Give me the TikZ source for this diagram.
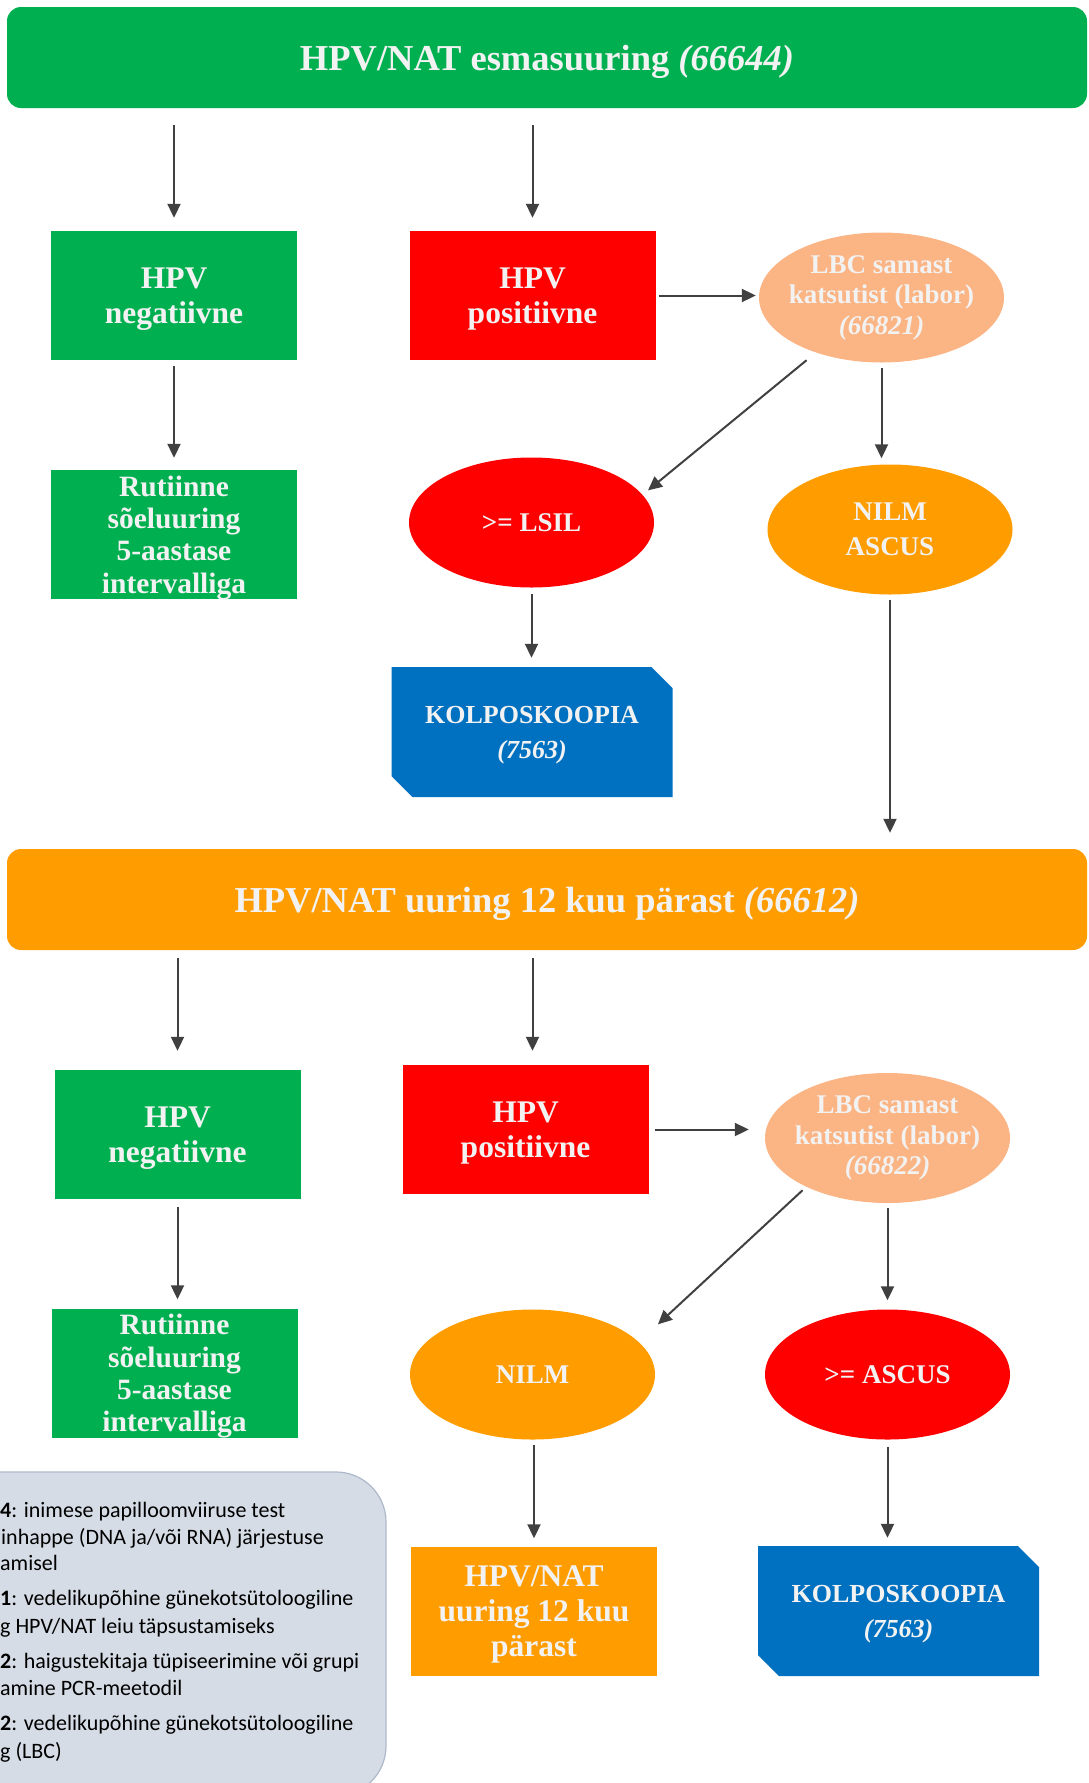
\documentclass[tikz,border=0pt]{standalone}
\usepackage{fontspec}
\setmainfont{Liberation Serif}
\newfontfamily\legendfont{Carlito}
\usetikzlibrary{arrows.meta,shapes.geometric,shapes.misc}

\definecolor{hpvgreen}{HTML}{00B050}
\definecolor{hpvred}{HTML}{FF0000}
\definecolor{hpvorange}{HTML}{FF9C00}
\definecolor{hpvpeach}{HTML}{FBB484}
\definecolor{hpvblue}{HTML}{0070C0}
\definecolor{legendfill}{HTML}{D6DCE5}
\definecolor{legendline}{HTML}{ADB9CA}
\definecolor{boxtext}{HTML}{F2F2F2}
\definecolor{arrowgrey}{HTML}{404040}

\tikzset{
  banner/.style={rectangle, rounded corners=14pt, minimum width=1080pt,
    minimum height=101pt, inner sep=0pt, text=boxtext, text depth=-2.3pt,
    font=\fontsize{36.5}{40}\selectfont\bfseries},
  stepbox/.style={rectangle, minimum width=246pt, minimum height=129pt,
    inner sep=0pt, align=center, text=boxtext, text depth=-3pt,
    font=\fontsize{31.5}{35}\selectfont\bfseries},
  rutiinne/.style={stepbox, fill=hpvgreen, text depth=-1.6pt,
    font=\fontsize{29.5}{32.3}\selectfont\bfseries},
  result/.style={ellipse, minimum width=245pt, minimum height=130pt,
    inner sep=0pt, align=center, text=boxtext,
    font=\fontsize{27}{35}\selectfont\bfseries},
  lbc/.style={result, fill=hpvpeach, inner xsep=-30pt,
    execute at begin node={\rule{0pt}{27pt}},
    font=\fontsize{27}{30.5}\selectfont\bfseries},
  kolpo/.style={chamfered rectangle, chamfered rectangle corners={north east,south west},
    chamfered rectangle xsep=10.5pt, chamfered rectangle ysep=10.5pt,
    minimum width=281pt, minimum height=130pt, inner sep=0pt, fill=hpvblue,
    align=center, text=boxtext, text depth=-3.4pt,
    font=\fontsize{26}{35}\selectfont\bfseries},
  arr/.style={draw=arrowgrey, line width=2pt, -{Triangle[length=14pt,width=13pt]}},
  legendbox/.style={fill=legendfill, draw=legendline, line width=1.2pt, rounded corners=50pt},
  legendtext/.style={anchor=base west, inner sep=0pt,
    font=\legendfont\fontsize{22}{26}\selectfont}
}

\begin{document}
\begin{tikzpicture}[x=1pt,y=-1pt]
  \useasboundingbox (0,0) rectangle (1089,1783);

  % legend
  \draw[legendbox] (-60,1472) rectangle (386,1796);
  \node[legendtext] (leg1) at (0,1517) {\textbf{4}: inimese papilloomviiruse test};
  \node[legendtext] (leg2) at (1,1544) {inhappe (DNA ja/või RNA) järjestuse};
  \node[legendtext] (leg3) at (0,1570) {amisel};
  \node[legendtext] (leg4) at (0,1605) {\textbf{1}: vedelikupõhine günekotsütoloogiline};
  \node[legendtext] (leg5) at (0,1633) {g HPV/NAT leiu täpsustamiseks};
  \node[legendtext] (leg6) at (0,1668) {\textbf{2}: haigustekitaja tüpiseerimine või grupi};
  \node[legendtext] (leg7) at (0,1695) {amine PCR-meetodil};
  \node[legendtext] (leg8) at (0,1730) {\textbf{2}: vedelikupõhine günekotsütoloogiline};
  \node[legendtext] (leg9) at (0,1758) {g (LBC)};

  % first round
  \node[banner, fill=hpvgreen] (esma) at (547,57.5) {HPV/NAT esmasuuring \textit{(66644)}};
  \node[stepbox, fill=hpvgreen] (neg1) at (174,295.5) {HPV\\negatiivne};
  \node[stepbox, fill=hpvred] (pos1) at (532.5,295.5) {HPV\\positiivne};
  \node[lbc] (lbc1) at (881.5,297.5) {LBC samast\\katsutist (labor)\\\textit{(66821)}};
  \node[rutiinne] (rut1) at (174,534.5) {Rutiinne\\sõeluuring\\5-aastase\\intervalliga};
  \node[result, fill=hpvred] (lsil) at (531.5,522.5) {>= LSIL};
  \node[result, fill=hpvorange] (nilmascus) at (890,529.5) {NILM\\ASCUS};
  \node[kolpo] (kolpo1) at (532,732) {KOLPOSKOOPIA\\\textit{(7563)}};

  % second round
  \node[banner, fill=hpvorange] (kordus) at (547,899.5) {HPV/NAT uuring 12 kuu pärast \textit{(66612)}};
  \node[stepbox, fill=hpvgreen] (neg2) at (177.5,1134.5) {HPV\\negatiivne};
  \node[stepbox, fill=hpvred] (pos2) at (525.5,1129.5) {HPV\\positiivne};
  \node[lbc] (lbc2) at (887.5,1138) {LBC samast\\katsutist (labor)\\\textit{(66822)}};
  \node[rutiinne] (rut2) at (174.5,1373) {Rutiinne\\sõeluuring\\5-aastase\\intervalliga};
  \node[result, fill=hpvorange] (nilm) at (532.5,1374.5) {NILM};
  \node[result, fill=hpvred] (ascus) at (887.5,1374.5) {>= ASCUS};
  \node[stepbox, fill=hpvorange] (uuring) at (534,1611) {HPV/NAT\\uuring 12 kuu\\pärast};
  \node[kolpo] (kolpo2) at (898.5,1611) {KOLPOSKOOPIA\\\textit{(7563)}};

  % connectors
  \draw[arr, shorten <=17pt, shorten >=13pt] (esma.south -| neg1.north) -- (neg1.north);
  \draw[arr, shorten <=17pt, shorten >=13pt] (esma.south -| pos1.north) -- (pos1.north);
  \draw[arr, shorten <=3pt, shorten >=3pt] (pos1.east) -- (lbc1.west |- pos1.east);
  \draw[arr, shorten <=6pt, shorten >=12pt] (neg1.south) -- (rut1.north);
  \draw[arr, shorten <=12pt, shorten >=7pt] (lbc1.220) -- (lsil.14.5);
  \draw[arr, shorten <=5pt, shorten >=6pt] (lbc1.south) -- (lbc1.south |- nilmascus.north);
  \draw[arr, shorten <=6pt, shorten >=9pt] (lsil.south) -- (lsil.south |- kolpo1.north);
  \draw[arr, shorten <=5pt, shorten >=16pt] (nilmascus.south) -- (nilmascus.south |- kordus.north);

  \draw[arr, shorten <=8pt, shorten >=19pt] (kordus.south -| neg2.north) -- (neg2.north);
  \draw[arr, shorten <=8pt, shorten >=14pt] ([xshift=7pt]kordus.south -| pos2.north) -- ([xshift=7pt]pos2.north);
  \draw[arr, shorten <=6pt, shorten >=16pt] (pos2.east) -- (lbc2.west |- pos2.east);
  \draw[arr, shorten <=8pt, shorten >=9pt] (neg2.south) -- (neg2.south |- rut2.north);
  \draw[arr, shorten <=5pt, shorten >=26pt] (lbc2.211) -- (nilm.17.3);
  \draw[arr, shorten <=5pt, shorten >=9pt] (lbc2.south) -- (ascus.north);
  \draw[arr, shorten <=5pt, shorten >=8pt] (nilm.south -| uuring.north) -- (uuring.north);
  \draw[arr, shorten <=7pt, shorten >=8pt] (ascus.south) -- (ascus.south |- kolpo2.north);
\end{tikzpicture}
\end{document}
